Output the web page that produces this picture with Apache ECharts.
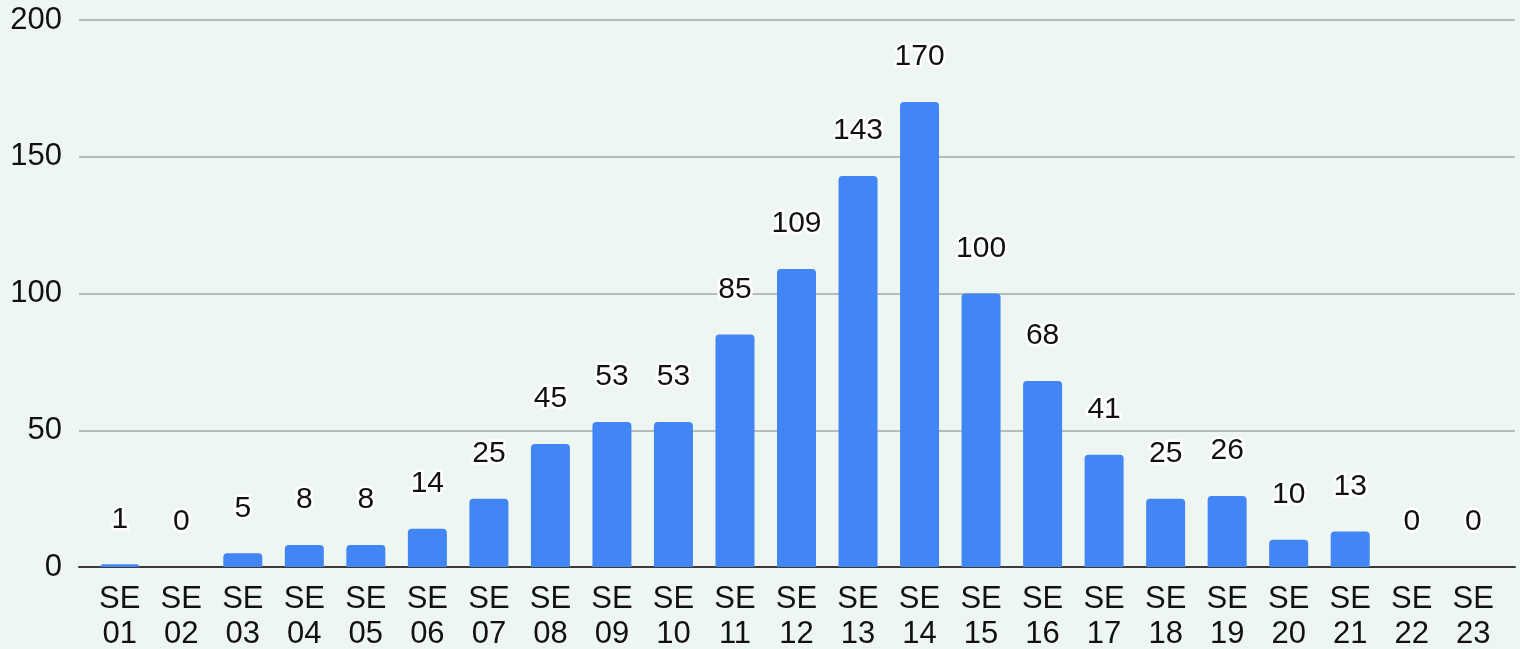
<!DOCTYPE html>
<html>
<head>
<meta charset="utf-8">
<script src="https://cdn.jsdelivr.net/npm/echarts@6/dist/echarts.min.js"></script>
<style>
  html, body { margin: 0; padding: 0; background: #eef6f2; }
  #chart { width: 1520px; height: 649px; }
</style>
</head>
<body>
<div id="chart"></div>
<script>
// categories and values
const categories = ["SE\n01", "SE\n02", "SE\n03", "SE\n04", "SE\n05", "SE\n06", "SE\n07", "SE\n08",
  "SE\n09", "SE\n10", "SE\n11", "SE\n12", "SE\n13", "SE\n14", "SE\n15", "SE\n16", "SE\n17", "SE\n18",
  "SE\n19", "SE\n20", "SE\n21", "SE\n22", "SE\n23"];
const values = [1, 0, 5, 8, 8, 14, 25, 45, 53, 53, 85, 109, 143, 170, 100, 68, 41, 25, 26, 10, 13, 0, 0];
const yTicks = [0, 50, 100, 150, 200];

const FONT = "Liberation Sans";
const chart = echarts.init(document.getElementById("chart"));

const option = {
  backgroundColor: "#eef6f2",
  animation: false,
  textStyle: { fontFamily: FONT },
  grid: [
    // 网格线和y轴
    { left: 79, right: 5, top: 20, bottom: 82, outerBoundsMode: "none" },
    // 柱子
    { left: 89, right: 16, top: 20, bottom: 82, outerBoundsMode: "none" }
  ],
  xAxis: [
    {
      gridIndex: 0,
      type: "category",
      data: categories,
      axisLine: { lineStyle: { color: "#3a3a3a", width: 2 } },
      axisTick: { show: false },
      axisLabel: { show: false }
    },
    {
      gridIndex: 1,
      type: "category",
      data: categories,
      axisLine: { show: false },
      axisTick: { show: false },
      axisLabel: {
        color: "#111",
        fontSize: 31,
        lineHeight: 35,
        margin: 15,
        interval: 0,
        fontFamily: FONT
      }
    }
  ],
  yAxis: [
    {
      gridIndex: 0,
      type: "value",
      min: yTicks[0],
      max: yTicks[yTicks.length - 1],
      interval: yTicks[1] - yTicks[0],
      axisLine: { show: false },
      axisTick: { show: false },
      axisLabel: { color: "#111", fontSize: 31, margin: 17, fontFamily: FONT },
      splitLine: { lineStyle: { color: "#b8bbb9", width: 2 } }
    },
    {
      gridIndex: 1,
      type: "value",
      min: yTicks[0],
      max: yTicks[yTicks.length - 1],
      show: false
    }
  ],
  series: [
    {
      type: "bar",
      xAxisIndex: 1,
      yAxisIndex: 1,
      data: values,
      barWidth: 39,
      itemStyle: { color: "#4285f4", borderRadius: [4, 4, 0, 0] },
      label: {
        show: true,
        position: "top",
        distance: 30,
        color: "#111",
        fontSize: 30,
        fontFamily: FONT,
        textBorderColor: "#ffffff",
        textBorderWidth: 5
      }
    }
  ]
};

chart.setOption(option);
</script>
</body>
</html>
